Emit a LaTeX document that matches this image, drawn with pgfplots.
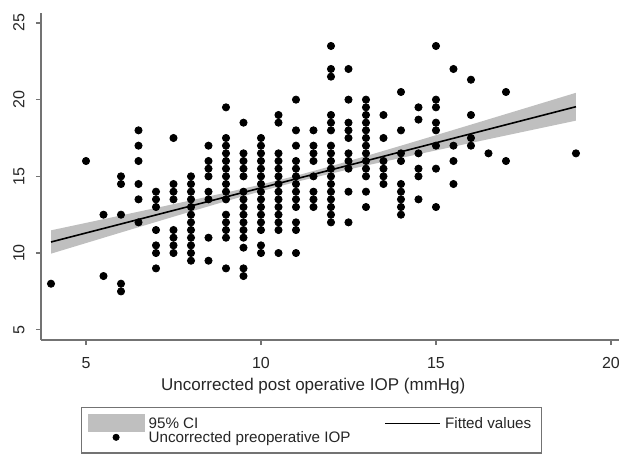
\documentclass[border=0pt]{standalone}
\usepackage{fontspec}
\setmainfont{Liberation Sans}
\usepackage{pgfplots}
\pgfplotsset{compat=1.18}

\begin{document}
\begin{tikzpicture}
\useasboundingbox (-20.5pt,-57.5pt) rectangle (289pt,170pt);
\begin{axis}[
  scale only axis, width=289pt, height=163.5pt,
  xmin=3.714, xmax=20.23, ymin=4.33, ymax=25.65,
  axis x line*=bottom, axis y line*=left,
  axis line style={black!55, line width=0.6pt},
  tick align=outside, major tick length=2.5pt,
  tick style={black!55, line width=0.6pt},
  xtick={5,10,15,20}, ytick={5,10,15,20,25},
  /pgf/number format/assume math mode=true,
  tick label style={font=\fontsize{8}{9.6}\selectfont, text=black!85},
  xticklabel style={inner sep=0pt, anchor=north, yshift=-6pt},
  yticklabel style={rotate=90, anchor=south, inner xsep=0pt, inner ysep=5.5pt},
  xlabel={Uncorrected post operative IOP (mmHg)},
  xlabel style={at={(0.471,-0.141)}, anchor=center, font=\fontsize{8.5}{10}\selectfont, text=black!85},
  legend columns=2,
  legend cell align=left,
  legend style={at={(0.0692,-0.2049)}, anchor=north west, draw=black!55, line width=0.6pt,
    font=\fontsize{7.6}{8}\selectfont, text=black!85, inner xsep=3pt, inner ysep=4.6pt,
    row sep=0.5pt,
    /tikz/every even column/.append style={column sep=15pt},
    nodes={inner ysep=0.3pt, text height=5.5pt, text depth=0.4pt}},
]
% 95% confidence band of the linear fit
\addplot[fill=gray!50, draw=none,
  legend image code/.code={\fill[gray!50, overlay] (0pt,-4.5pt) rectangle (28.5pt,4.5pt); \path (0pt,0pt) (28.5pt,0pt);}]
  coordinates {
  (4,11.481) (5,11.966) (6,12.452) (7,12.941) (8,13.435) (9,13.939) (10,14.466) (11,15.037)
  (12,15.662) (13,16.323) (14,16.999) (15,17.684) (16,18.372) (17,19.063) (18,19.755) (19,20.448)
  (19,18.632) (18,18.149) (17,17.665) (16,17.180) (15,16.692) (14,16.201) (13,15.701) (12,15.186)
  (11,14.635) (10,14.030) (9,13.381) (8,12.709) (7,12.027) (6,11.340) (5,10.650) (4,9.959)};
\addlegendentry{95\% CI}
% fitted line
\addplot[black, line width=0.8pt,
  legend image code/.code={\draw[black, line width=0.8pt] (0pt,0pt) -- (27.5pt,0pt);}]
  coordinates {(4,10.72) (19,19.54)};
\addlegendentry{Fitted values}
% observations
\addplot[only marks, mark=*, mark size=1.8pt, mark options={fill=black, draw=black, line width=0.4pt},
  legend image code/.code={\draw[mark repeat=2, mark phase=2, mark size=1.55pt] plot coordinates {(0pt,0pt) (14.25pt,0pt) (28.5pt,0pt)};}]
  coordinates {
  (4,8)
  (5,16)
  (5.5,12.5) (5.5,8.5)
  (6,15) (6,14.5) (6,12.5) (6,8) (6,7.5)
  (6.5,18) (6.5,17) (6.5,16) (6.5,14.5) (6.5,13.5) (6.5,12)
  (7,14) (7,13.5) (7,13) (7,11.5) (7,10.5) (7,10) (7,9)
  (7.5,17.5) (7.5,14.5) (7.5,14) (7.5,13.5) (7.5,11.5) (7.5,11) (7.5,10.5) (7.5,10)
  (8,15) (8,14.5) (8,14) (8,13.5) (8,13) (8,12.5) (8,12) (8,11.5) (8,11) (8,10.5) (8,10) (8,9.5)
  (8.5,17) (8.5,16) (8.5,15.5) (8.5,15) (8.5,14) (8.5,13.5) (8.5,11) (8.5,9.5)
  (9,19.5) (9,17.5) (9,17) (9,16.5) (9,16) (9,15.5) (9,15) (9,14.5) (9,14) (9,13.5) (9,12.5) (9,12) (9,11.5) (9,11) (9,9)
  (9.5,18.5) (9.5,16.5) (9.5,16) (9.5,15.5) (9.5,15) (9.5,14) (9.5,13.5) (9.5,13) (9.5,12.5) (9.5,12) (9.5,11.5) (9.5,11) (9.5,10.35) (9.5,9) (9.5,8.5)
  (10,17.5) (10,17) (10,16.5) (10,16) (10,15.5) (10,15) (10,14.5) (10,14) (10,13.5) (10,13) (10,12.5) (10,12) (10,11.5) (10,10.5) (10,10)
  (10.5,19) (10.5,18.5) (10.5,16.5) (10.5,16) (10.5,15.5) (10.5,15) (10.5,14.5) (10.5,14) (10.5,13.5) (10.5,13) (10.5,12.5) (10.5,12) (10.5,11.5) (10.5,10)
  (11,20) (11,18) (11,17) (11,16) (11,15.5) (11,15) (11,14.5) (11,14) (11,13.5) (11,13) (11,12) (11,11.5) (11,10)
  (11.5,18) (11.5,17) (11.5,16.5) (11.5,16) (11.5,15) (11.5,14) (11.5,13.5) (11.5,13)
  (12,23.5) (12,22) (12,21.5) (12,19) (12,18.5) (12,18) (12,17) (12,16.5) (12,16) (12,15.5) (12,15) (12,14.5) (12,14) (12,13.5) (12,13) (12,12.5) (12,12)
  (12.5,22) (12.5,20) (12.5,18.5) (12.5,18) (12.5,17.5) (12.5,16.5) (12.5,16) (12.5,15.5) (12.5,14) (12.5,12)
  (13,20) (13,19.5) (13,19) (13,18.5) (13,18) (13,17.5) (13,17) (13,16.5) (13,16) (13,15.5) (13,15) (13,14) (13,13)
  (13.5,19) (13.5,17.5) (13.5,16) (13.5,15.5) (13.5,15) (13.5,14.5)
  (14,20.5) (14,18) (14,16.5) (14,16) (14,14.5) (14,14) (14,13.5) (14,13) (14,12.5)
  (14.5,19.5) (14.5,18.7) (14.5,16.5) (14.5,15.5) (14.5,15) (14.5,13.5)
  (15,23.5) (15,20) (15,19.5) (15,18.5) (15,18) (15,17) (15,15.5) (15,13)
  (15.5,22) (15.5,17) (15.5,16) (15.5,14.5)
  (16,21.3) (16,19) (16,17.5) (16,17)
  (16.5,16.5)
  (17,20.5) (17,16)
  (19,16.5)};
\addlegendentry{Uncorrected preoperative IOP}
\end{axis}
\end{tikzpicture}
\end{document}
